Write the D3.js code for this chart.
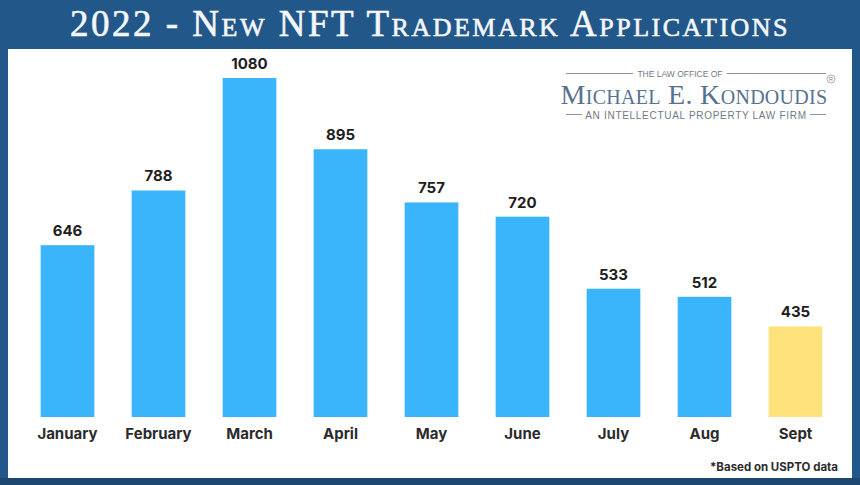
<!DOCTYPE html>
<meta charset="utf-8">
<style>
    body { margin: 0; background: #22578a; }
    svg { display: block; }
    .month { font-family: "Inter", "Open Sans", sans-serif; font-weight: 700; font-size: 15px; fill: #2b2b2b; }
    .val { font-family: "Inter", "Open Sans", sans-serif; font-weight: 700; font-size: 15px; fill: #1e1e1e; }
</style>
<body>
<svg width="860" height="485"></svg>
<script src="https://d3js.org/d3.v7.min.js"></script>
<script>
    // data
    var months = ["January", "February", "March", "April", "May", "June", "July", "Aug", "Sept"];
    var counts = [646, 788, 1080, 895, 757, 720, 533, 512, 435];
    var barColors = ["#3ab4fb", "#3ab4fb", "#3ab4fb", "#3ab4fb", "#3ab4fb", "#3ab4fb", "#3ab4fb", "#3ab4fb", "#fee27c"];

    var svg = d3.select("svg");

    // blue frame + white panel
    svg.append("rect").attr("width", 860).attr("height", 485).attr("fill", "#22578a");
    svg.append("rect").attr("x", 0).attr("y", 478).attr("width", 860).attr("height", 7).attr("fill", "#1c4770");
    svg.append("rect")
        .attr("x", 8).attr("y", 49)
        .attr("width", 844).attr("height", 429)
        .attr("fill", "#ffffff");

    // title
    svg.append("text")
        .attr("x", 430).attr("y", 36)
        .attr("text-anchor", "middle")
        .style("font-family", "'Liberation Serif', 'DejaVu Serif', serif")
        .style("font-variant", "small-caps")
        .style("font-size", "37px")
        .style("letter-spacing", "2.5px")
        .attr("fill", "#f4f6f8")
        .attr("stroke", "#f4f6f8")
        .attr("stroke-width", 0.6)
        .text("2022 - New NFT Trademark Applications");

    var x = d3.scaleBand()
        .domain(months)
        .range([22, 841])
        .paddingInner(0.41)
        .paddingOuter(0.205);

    // axis does not start at zero in the original graphic
    var y = d3.scaleLinear()
        .domain([200, 1080])
        .range([417, 78]);

    var data = months.map(function (m, i) { return { month: m, count: counts[i], color: barColors[i] }; });

    svg.append("g").selectAll("rect")
        .data(data)
        .enter().append("rect")
        .attr("x", function (d) { return x(d.month); })
        .attr("y", function (d) { return y(d.count); })
        .attr("width", x.bandwidth())
        .attr("height", function (d) { return y(200) - y(d.count); })
        .attr("fill", function (d) { return d.color; });

    svg.append("g").selectAll("text")
        .data(data)
        .enter().append("text")
        .attr("class", "val")
        .attr("x", function (d) { return x(d.month) + x.bandwidth() / 2; })
        .attr("y", function (d) { return y(d.count) - 9; })
        .attr("text-anchor", "middle")
        .text(function (d) { return d.count; });

    var xAxis = d3.axisBottom(x).tickSize(0).tickPadding(0);
    var gx = svg.append("g")
        .attr("transform", "translate(0,428)")
        .call(xAxis);
    gx.select(".domain").remove();
    gx.selectAll("text")
        .attr("class", "month")
        .attr("dy", "0.71em")
        .style("font-family", null).style("font-size", null);

    // logo block
    var logo = svg.append("g").attr("fill", "#6f7a85");
    logo.append("text")
        .attr("x", 680).attr("y", 76.5)
        .attr("text-anchor", "middle")
        .style("font-family", "'Liberation Sans', sans-serif")
        .style("font-size", "8.5px")
        .text("THE LAW OFFICE OF");
    logo.append("text")
        .attr("x", 694).attr("y", 104)
        .attr("text-anchor", "middle")
        .style("font-family", "'Liberation Serif', serif")
        .style("font-variant", "small-caps")
        .style("font-size", "28px")
        .style("letter-spacing", "0.3px")
        .attr("fill", "#56728f")
        .text("Michael E. Kondoudis");
    logo.append("circle")
        .attr("cx", 831).attr("cy", 79).attr("r", 4)
        .attr("fill", "none").attr("stroke", "#8a939c").attr("stroke-width", 0.7);
    logo.append("text")
        .attr("x", 831).attr("y", 81)
        .attr("text-anchor", "middle")
        .style("font-family", "'Liberation Sans', sans-serif")
        .style("font-size", "5.5px")
        .text("R");
    logo.append("text")
        .attr("x", 696).attr("y", 118.5)
        .attr("text-anchor", "middle")
        .style("font-family", "'Liberation Sans', sans-serif")
        .style("font-size", "10px")
        .style("letter-spacing", "0.7px")
        .text("AN INTELLECTUAL PROPERTY LAW FIRM");
    var lines = [[566, 633, 73.5], [727, 826, 73.5], [566, 582, 114.5], [810, 826, 114.5]];
    logo.selectAll("line").data(lines).enter().append("line")
        .attr("x1", function (d) { return d[0]; })
        .attr("x2", function (d) { return d[1]; })
        .attr("y1", function (d) { return d[2]; })
        .attr("y2", function (d) { return d[2]; })
        .attr("stroke", "#8a939c")
        .attr("stroke-width", 1);

    // footnote
    svg.append("text")
        .attr("x", 838).attr("y", 471)
        .attr("text-anchor", "end")
        .style("font-family", "'Inter', 'Open Sans', sans-serif")
        .style("font-weight", "700")
        .style("font-size", "11.5px")
        .attr("fill", "#2b2b2b")
        .text("*Based on USPTO data");
</script>
</body>
